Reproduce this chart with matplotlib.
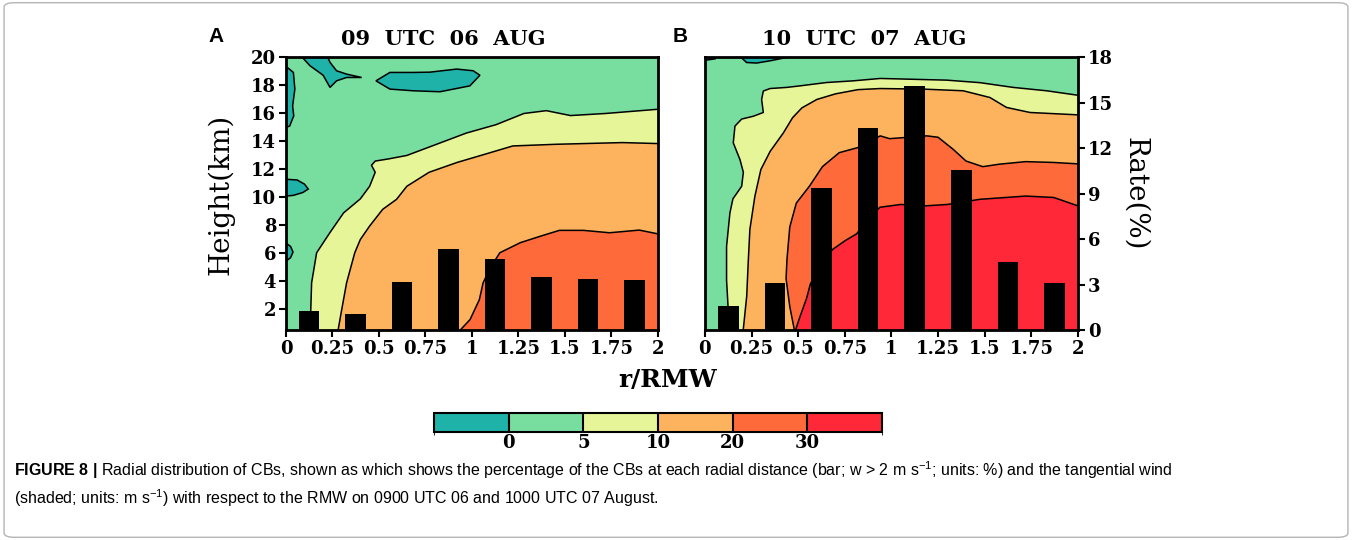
import matplotlib
matplotlib.use("Agg")
import matplotlib as mpl
import matplotlib.pyplot as plt
from matplotlib.colors import ListedColormap, BoundaryNorm
from matplotlib.patches import FancyBboxPatch

plt.rcParams["font.family"] = "DejaVu Serif"
plt.rcParams["font.weight"] = "bold"
plt.rcParams["mathtext.fontset"] = "custom"
plt.rcParams["mathtext.rm"] = "Liberation Sans:weight=normal"
plt.rcParams["mathtext.it"] = "Liberation Sans:weight=normal"
plt.rcParams["mathtext.bf"] = "Liberation Sans:weight=bold"
plt.rcParams["mathtext.default"] = "rm"

# ---- data ----
bar_r = [0.125, 0.375, 0.625, 0.875, 1.125, 1.375, 1.625, 1.875]
rate_a = [1.3, 1.1, 3.2, 5.4, 4.7, 3.5, 3.4, 3.3]
rate_b = [1.6, 3.15, 9.4, 13.35, 16.1, 10.55, 4.5, 3.1]

levels = [-5, 0, 5, 10, 20, 30, 40]
level_colors = ["#1fb2a8", "#78dea0", "#e6f598", "#fdb35e", "#fe6a3a", "#fe2838"]

# contour lines of tangential wind (r/RMW, km), panel A
a_c5_r = [0.13, 0.138, 0.165, 0.237, 0.31, 0.40, 0.45, 0.48, 0.46, 0.48, 0.55, 0.65, 0.83, 0.97,
          1.13, 1.28, 1.40, 1.53, 1.72, 2.0]
a_c5_z = [0.5, 3.9, 6.05, 7.5, 8.9, 9.9, 10.8, 11.8, 12.3, 12.6, 12.75, 13.0, 13.9, 14.6,
          15.2, 16.0, 16.2, 15.85, 16.0, 16.3]
a_c10_r = [0.28, 0.30, 0.326, 0.37, 0.40, 0.45, 0.52, 0.595, 0.65, 0.77, 0.92, 1.04, 1.22, 1.455, 1.81, 2.0]
a_c10_z = [0.5, 2.0, 3.9, 6.05, 7.0, 7.96, 9.15, 9.87, 10.8, 11.8, 12.5, 12.97, 13.68, 13.8, 13.92, 13.85]
a_c20_r = [0.935, 0.99, 1.04, 1.06, 1.10, 1.15, 1.26, 1.37, 1.47, 1.60, 1.74, 1.90, 2.0]
a_c20_z = [0.5, 1.28, 2.7, 3.9, 5.0, 6.05, 6.77, 7.24, 7.65, 7.65, 7.48, 7.67, 7.4]

# negative-wind pockets, panel A
a_neg1_r = [0.075, 0.129, 0.2, 0.237, 0.272, 0.326, 0.407, 0.326, 0.272, 0.237, 0.219]
a_neg1_z = [20.2, 19.41, 18.73, 17.86, 18.33, 18.57, 18.57, 18.81, 19.05, 19.65, 20.2]
a_neg2_r = [0.484, 0.559, 0.684, 0.774, 0.918, 1.007, 1.043, 0.989, 0.828, 0.684, 0.559]
a_neg2_z = [18.33, 18.93, 18.93, 18.95, 19.17, 19.05, 18.73, 17.97, 17.55, 17.62, 17.74]
a_neg3_r = [0.0, 0.007, 0.04, 0.048, 0.036, 0.042, 0.02, 0.0]
a_neg3_z = [19.3, 19.29, 18.93, 17.74, 16.54, 15.83, 15.1, 15.0]
a_neg4_r = [0.0, 0.06, 0.1, 0.12, 0.09, 0.04, 0.0]
a_neg4_z = [11.3, 11.25, 10.95, 10.6, 10.35, 10.15, 10.1]
a_neg5_r = [0.0, 0.025, 0.038, 0.025, 0.0]
a_neg5_z = [6.75, 6.5, 6.1, 5.7, 5.45]

# contour lines, panel B
b_c5_r = [0.116, 0.124, 0.116, 0.116, 0.134, 0.15, 0.197, 0.206, 0.188, 0.152, 0.161, 0.197, 0.259,
          0.313, 0.304, 0.313, 0.349, 0.438, 0.509, 0.652, 0.795, 0.94, 1.296, 1.475, 1.653, 1.832, 2.0]
b_c5_z = [0.5, 2.2, 4.1, 6.5, 8.9, 9.9, 10.8, 11.8, 12.7, 13.9, 15.1, 15.6, 15.8,
          16.07, 17.0, 17.6, 17.78, 17.86, 17.97, 18.21, 18.33, 18.5, 18.38, 18.2, 17.86, 17.62, 17.3]
b_c10_r = [0.205, 0.224, 0.232, 0.241, 0.268, 0.30, 0.35, 0.42, 0.47, 0.52, 0.60, 0.70, 0.82, 0.94,
           1.17, 1.385, 1.528, 1.617, 1.743, 2.0]
b_c10_z = [0.5, 2.95, 5.34, 7.72, 10.1, 12.0, 13.3, 14.6, 15.7, 16.4, 17.0, 17.4, 17.7, 17.78,
           17.74, 17.62, 17.14, 16.43, 16.07, 15.9]
b_c20_r = [0.48, 0.455, 0.435, 0.44, 0.455, 0.49, 0.56, 0.63, 0.72, 0.83, 0.94, 0.99, 1.19, 1.25,
           1.33, 1.40, 1.49, 1.58, 1.72, 1.87, 2.0]
b_c20_z = [0.5, 2.2, 4.2, 5.6, 7.9, 9.6, 10.8, 12.2, 13.2, 13.6, 14.4, 14.2, 14.4, 14.3,
           13.45, 12.6, 12.2, 12.38, 12.56, 12.5, 12.4]
b_c30_r = [0.485, 0.51, 0.545, 0.565, 0.62, 0.686, 0.75, 0.813, 0.88, 0.938, 1.05, 1.18, 1.30,
           1.475, 1.72, 1.87, 2.0]
b_c30_z = [0.5, 1.5, 2.8, 3.8, 5.3, 6.3, 6.9, 7.4, 8.5, 9.3, 9.5, 9.4, 9.5, 9.87, 10.1, 10.0, 9.4]

b_neg1_r = [0.0, 0.062, 0.055, 0.0]
b_neg1_z = [20.2, 20.2, 19.9, 19.8]
b_neg2_r = [0.179, 0.223, 0.277, 0.349, 0.438, 0.509]
b_neg2_z = [20.2, 19.64, 19.6, 19.76, 20.0, 20.2]

xticks = [0, 0.25, 0.5, 0.75, 1, 1.25, 1.5, 1.75, 2]
xlabels = ["0", "0.25", "0.5", "0.75", "1", "1.25", "1.5", "1.75", "2"]


def draw_panel(ax, lines, pockets, rates):
    ax.set_facecolor(level_colors[1])
    for (r, z), col in zip(lines, level_colors[2:]):
        ax.fill(r + [2.0], z + [0.5], color=col, lw=0)
        ax.plot(r, z, color="k", lw=1.1)
    for r, z in pockets:
        ax.fill(r, z, facecolor=level_colors[0], edgecolor="k", lw=1.1)
    ax.set_xlim(0, 2)
    ax.set_ylim(0.5, 20)
    ax.set_xticks(xticks)
    ax.set_xticklabels(xlabels)
    ax.tick_params(direction="out", length=5, width=1.5, labelsize=13, pad=2)
    for s in ax.spines.values():
        s.set_linewidth(2)
    tw = ax.twinx()
    tw.bar(bar_r, rates, width=0.11, color="k")
    tw.set_ylim(0, 18)
    tw.tick_params(direction="out", length=5, width=1.5, labelsize=13, pad=2)
    return tw


fig = plt.figure(figsize=(13.52, 5.4), dpi=100)

ax_a = fig.add_axes([0.2115, 0.388, 0.2751, 0.5056])
ax_b = fig.add_axes([0.5214, 0.388, 0.2759, 0.5056])

tw_a = draw_panel(ax_a,
                  [(a_c5_r, a_c5_z), (a_c10_r, a_c10_z), (a_c20_r, a_c20_z)],
                  [(a_neg1_r, a_neg1_z), (a_neg2_r, a_neg2_z), (a_neg3_r, a_neg3_z),
                   (a_neg4_r, a_neg4_z), (a_neg5_r, a_neg5_z)],
                  rate_a)
ax_a.set_yticks(range(2, 21, 2))
tw_a.set_yticks([])

tw_b = draw_panel(ax_b,
                  [(b_c5_r, b_c5_z), (b_c10_r, b_c10_z), (b_c20_r, b_c20_z), (b_c30_r, b_c30_z)],
                  [(b_neg1_r, b_neg1_z), (b_neg2_r, b_neg2_z)],
                  rate_b)
ax_b.tick_params(left=False, labelleft=False)
tw_b.set_yticks(range(0, 19, 3))

ax_a.set_ylabel("Height(km)", fontsize=20, labelpad=12)
tw_b.set_ylabel("Rate(%)", fontsize=20, rotation=-90, labelpad=26)

fig.text(443 / 1352, 1 - 39 / 540, "09  UTC  06  AUG", ha="center", va="center", fontsize=15)
fig.text(864 / 1352, 1 - 39 / 540, "10  UTC  07  AUG", ha="center", va="center", fontsize=15)
fig.text(216 / 1352, 1 - 36 / 540, "A", ha="center", va="center", fontsize=15,
         family="Liberation Sans")
fig.text(680 / 1352, 1 - 36 / 540, "B", ha="center", va="center", fontsize=15,
         family="Liberation Sans")
fig.text(668 / 1352, 1 - 380 / 540, "r/RMW", ha="center", va="center", fontsize=18)

# label bar
cax = fig.add_axes([434 / 1352, 1 - 431.7 / 540, 448 / 1352, 18.4 / 540])
cmap = ListedColormap(level_colors)
norm = BoundaryNorm(levels, cmap.N)
cb = fig.colorbar(mpl.cm.ScalarMappable(norm=norm, cmap=cmap), cax=cax, orientation="horizontal",
                  spacing="uniform", drawedges=True, ticks=[0, 5, 10, 20, 30])
cb.outline.set_linewidth(1.5)
cb.dividers.set_linewidth(1.5)
cb.ax.tick_params(length=0, labelsize=13, pad=2)

# caption
cap_font = "Liberation Sans"
fig.text(14 / 1352, 1 - 470 / 540,
         r"$\mathbf{FIGURE\ 8\ |}$ Radial distribution of CBs, shown as which shows the percentage of the CBs "
         r"at each radial distance (bar; w > 2 m s$^{-1}$; units: %) and the tangential wind",
         ha="left", va="center", fontsize=11.5, family=cap_font, weight="normal")
fig.text(14 / 1352, 1 - 498 / 540,
         r"(shaded; units: m s$^{-1}$) with respect to the RMW on 0900 UTC 06 and 1000 UTC 07 August.",
         ha="left", va="center", fontsize=11.5, family=cap_font, weight="normal")

fig.patches.append(FancyBboxPatch((0.003, 0.005), 0.994, 0.99, boxstyle="round,pad=0,rounding_size=0.008",
                                  transform=fig.transFigure, fill=False, edgecolor="#b5b5b5", lw=1))

fig.savefig("out.png", dpi=100)
